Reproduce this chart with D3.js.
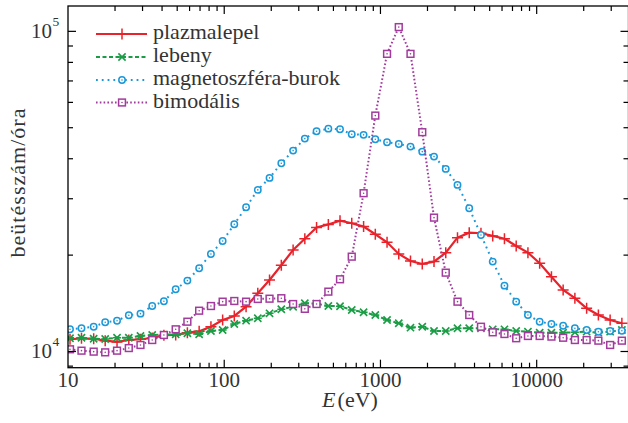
<!DOCTYPE html>
<html>
<head>
<meta charset="utf-8">
<script src="https://cdn.jsdelivr.net/npm/d3@7"></script>
<style>
 body { margin: 0; background: #fff; }
 svg text { font-family: 'Liberation Serif', 'DejaVu Serif', 'Noto Serif', Tinos, 'Times New Roman', Times, serif; }
</style>
</head>
<body>
<div id="chart"></div>
<script>
// energy grid (eV), shared by all four spectra
const energies = [10.3, 12.2, 14.6, 17.3, 20.6, 24.5, 29.1, 34.6, 41.1, 48.9,
 58.1, 69.1, 82.2, 97.7, 116, 138, 164, 195, 232, 276,
 328, 390, 464, 551, 655, 780, 927, 1102, 1310, 1557,
 1852, 2202, 2618, 3113, 3700, 4399, 5231, 6219, 7394, 8790,
 10450, 12430, 14770, 17560, 20880, 24830, 29520, 35100];

// counts per hour
const plazmalepel = [10920, 10990, 10960, 10810, 10710, 10860, 10920, 11020, 11240, 11260,
 11450, 11560, 11950, 12540, 12910, 13800, 15200, 16730, 18600, 20760,
 22500, 24410, 24940, 25630, 25160, 24550, 23240, 21940, 20170, 19180,
 18770, 19090, 20360, 22680, 23510, 23410, 22960, 22510, 21360, 20360,
 18860, 17130, 15570, 14670, 13650, 13000, 12540, 12250];

const lebeny = [11000, 11040, 10960, 10940, 11040, 11040, 11180, 11260, 11280, 11320,
 11400, 11320, 11590, 11670, 12190, 12480, 12700, 13160, 13550, 13800,
 14150, 14110, 13870, 13850, 13480, 13260, 13000, 12540, 12250, 11870,
 11950, 11590, 11590, 11820, 11820, 11820, 11730, 11730, 11590, 11530,
 11450, 11450, 11450, 11480, 11530, 11450, 11530, 11670];

const magnetoBurok = [11730, 11820, 11950, 12340, 12480, 12980, 13130, 13870, 14350, 15640,
 16650, 18200, 20170, 22150, 24980, 28220, 31970, 34850, 38730, 42410,
 46240, 48760, 49660, 49430, 47720, 47500, 46030, 45060, 44500, 43650,
 42100, 40620, 37180, 33140, 28020, 23120, 19090, 16060, 14310, 13000,
 12390, 12190, 12040, 11820, 11670, 11530, 11590, 11610];

const bimodalis = [10160, 10060, 9990, 9940, 10060, 10250, 10480, 10860, 11260, 11730,
 12390, 13410, 13870, 14310, 14380, 14310, 14590, 14620, 14670, 14070,
 13590, 14070, 15380, 16810, 19780, 31220, 54560, 85050, 103100, 85050,
 48420, 26190, 17630, 14310, 13000, 11950, 11480, 11340, 11000, 11180,
 11180, 11130, 11040, 10860, 10860, 10810, 10480, 10810];

const seriesNames = ["plazmalepel", "lebeny", "magnetoszféra-burok", "bimodális"];
const xTickLabels = [10, 100, 1000, 10000];
const yTickLabels = [4, 5];   // exponents of 10

const width = 628, height = 423;
const pLeft = 68, pRight = 628.5, pTop = 6, pBottom = 367.7;

const svg = d3.select("#chart").append("svg")
 .attr("width", width)
 .attr("height", height);

const x = d3.scaleLog().domain([10, 38700]).range([pLeft, pRight]);
const y = d3.scaleLog().domain([8900, 120000]).range([pBottom, pTop]);

// series styles
const styles = [
 { color: "#e8232b", width: 2.2, dash: null,  marker: "plus" },
 { color: "#1a9d45", width: 2,   dash: "4,2.5", marker: "cross" },
 { color: "#1c98d8", width: 2,   dash: "1.8,4", marker: "circle" },
 { color: "#a23b9d", width: 2,   dash: "1.6,2.2", marker: "square" }
];
const seriesData = [plazmalepel, lebeny, magnetoBurok, bimodalis];

const plot = svg.append("g");
plot.append("clipPath").attr("id", "clip")
 .append("rect").attr("x", pLeft).attr("y", pTop).attr("width", pRight - pLeft).attr("height", pBottom - pTop);

const line = d3.line().x(d => x(d[0])).y(d => y(d[1]));

function drawMarker(g, kind, cx, cy, color) {
 if (kind === "plus") {
 g.append("path")
 .attr("d", `M${cx - 5.5},${cy}H${cx + 5.5}M${cx},${cy - 5.5}V${cy + 5.5}`)
 .attr("stroke", color).attr("stroke-width", 1.5).attr("fill", "none");
 } else if (kind === "cross") {
 const a = 3.6;
 g.append("path")
 .attr("d", `M${cx - a},${cy - a}L${cx + a},${cy + a}M${cx - a},${cy + a}L${cx + a},${cy - a}M${cx - 4},${cy}H${cx + 4}`)
 .attr("stroke", color).attr("stroke-width", 1.6).attr("fill", "none");
 } else if (kind === "circle") {
 g.append("circle").attr("cx", cx).attr("cy", cy).attr("r", 3.2)
 .attr("fill", "#fff").attr("stroke", color).attr("stroke-width", 1.5);
 g.append("circle").attr("cx", cx).attr("cy", cy).attr("r", 0.8).attr("fill", color);
 } else {
 g.append("rect").attr("x", cx - 3.4).attr("y", cy - 3.4).attr("width", 6.8).attr("height", 6.8)
 .attr("fill", "#fff").attr("stroke", color).attr("stroke-width", 1.5);
 g.append("circle").attr("cx", cx).attr("cy", cy).attr("r", 0.8).attr("fill", color);
 }
}

seriesData.forEach((vals, i) => {
 const st = styles[i];
 const pts = energies.map((e, k) => [e, vals[k]]);
 const g = plot.append("g").attr("clip-path", "url(#clip)");
 g.append("path")
 .datum(pts)
 .attr("d", line)
 .attr("fill", "none")
 .attr("stroke", st.color)
 .attr("stroke-width", st.width)
 .attr("stroke-dasharray", st.dash);
 pts.forEach(p => drawMarker(g, st.marker, x(p[0]), y(p[1]), st.color));
});

// frame
svg.append("rect")
 .attr("x", pLeft).attr("y", pTop)
 .attr("width", pRight - pLeft).attr("height", pBottom - pTop)
 .attr("fill", "none").attr("stroke", "#000").attr("stroke-width", 1.3);

// inward ticks on all four sides
const isMajor = v => Math.abs(Math.log10(v) - Math.round(Math.log10(v))) < 1e-6;
const ticks = svg.append("g").attr("stroke", "#000").attr("stroke-width", 1.2);
x.ticks().forEach(v => {
 const px = x(v), len = isMajor(v) ? 8 : 5;
 if (px <= pLeft + 0.5 || px >= pRight - 0.5) return;
 ticks.append("line").attr("x1", px).attr("x2", px).attr("y1", pBottom).attr("y2", pBottom - len);
 ticks.append("line").attr("x1", px).attr("x2", px).attr("y1", pTop).attr("y2", pTop + len);
});
y.ticks().forEach(v => {
 const py = y(v), len = isMajor(v) ? 8 : 5;
 if (py >= pBottom - 0.5 || py <= pTop + 0.5) return;
 ticks.append("line").attr("y1", py).attr("y2", py).attr("x1", pLeft).attr("x2", pLeft + len);
 ticks.append("line").attr("y1", py).attr("y2", py).attr("x1", pRight).attr("x2", pRight - len);
});

const textColor = "#333";

// x tick labels
svg.append("g").selectAll("text")
 .data(xTickLabels)
 .join("text")
 .attr("x", d => x(d))
 .attr("y", 387)
 .attr("text-anchor", "middle")
 .attr("font-size", 21)
 .attr("fill", textColor)
 .text(d => d);

// y tick labels 10^n
yTickLabels.forEach(p => {
 svg.append("text")
 .attr("x", 52)
 .attr("y", y(Math.pow(10, p)) + 7)
 .attr("text-anchor", "end")
 .attr("font-size", 21)
 .attr("fill", textColor)
 .text("10");
 svg.append("text")
 .attr("x", 52.5)
 .attr("y", y(Math.pow(10, p)) - 5)
 .attr("font-size", 13.5)
 .attr("fill", textColor)
 .text(p);
});

// axis titles
const xt = svg.append("text")
 .attr("x", 350).attr("y", 407)
 .attr("text-anchor", "middle")
 .attr("font-size", 22)
 .attr("fill", textColor);
xt.append("tspan").attr("font-style", "italic").text("E");
xt.append("tspan").attr("dx", 2).text("(eV)");

svg.append("text")
 .attr("transform", "translate(25,183) rotate(-90)")
 .attr("text-anchor", "middle")
 .attr("font-size", 22)
 .attr("fill", textColor)
 .attr("textLength", 149)
 .text("beütésszám/óra");

// legend
const legend = svg.append("g");
const legY = [34, 57, 80, 102.5];
seriesNames.forEach((name, i) => {
 const st = styles[i];
 legend.append("line")
 .attr("x1", 96).attr("x2", 147)
 .attr("y1", legY[i]).attr("y2", legY[i])
 .attr("stroke", st.color)
 .attr("stroke-width", st.width)
 .attr("stroke-dasharray", st.dash);
 drawMarker(legend, st.marker, 122, legY[i], st.color);
 legend.append("text")
 .attr("x", 153)
 .attr("y", legY[i] + 5)
 .attr("font-size", 22)
 .attr("fill", textColor)
 .text(name);
});
</script>
</body>
</html>
